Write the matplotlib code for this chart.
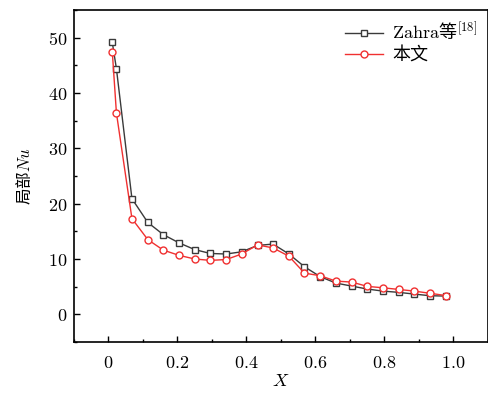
import matplotlib
matplotlib.use('Agg')
import matplotlib.pyplot as plt
from matplotlib.ticker import MultipleLocator

plt.rcParams['font.family'] = ['Noto Sans CJK SC', 'DejaVu Sans']
plt.rcParams['mathtext.fontset'] = 'cm'
plt.rcParams['axes.unicode_minus'] = False

# x positions along the wall
x = [0.011, 0.023, 0.068, 0.114, 0.159, 0.205, 0.250, 0.295, 0.341, 0.386, 0.432,
     0.477, 0.523, 0.568, 0.614, 0.659, 0.705, 0.750, 0.795, 0.841, 0.886, 0.932, 0.977]

# Zahra et al. [18]
nu_zahra = [49.15, 44.4, 20.9, 16.6, 14.4, 12.9, 11.7, 11.0, 10.9, 11.3, 12.45,
            12.7, 10.9, 8.6, 6.8, 5.65, 5.1, 4.57, 4.2, 3.97, 3.66, 3.36, 3.3]

# present work
nu_this = [47.5, 36.4, 17.3, 13.5, 11.6, 10.65, 10.0, 9.75, 9.9, 10.9, 12.55,
           12.0, 10.5, 7.45, 6.97, 6.0, 5.83, 5.05, 4.8, 4.5, 4.2, 3.8, 3.4]

labels = [r'$\mathrm{Zahra}$等$^{[18]}$', '本文']
xticks = [0, 0.2, 0.4, 0.6, 0.8, 1.0]
xticklabels = ['0', '0.2', '0.4', '0.6', '0.8', '1.0']
yticks = [0, 10, 20, 30, 40, 50]

fig = plt.figure(figsize=(4.88, 3.96), dpi=100)
ax = fig.add_axes([0.1516, 0.1364, 0.8484, 0.8383])

ax.plot(x, nu_zahra, color='#3a3a3a', lw=1.0, marker='s', ms=4.2,
        mfc='white', mec='#3a3a3a', mew=1.0, label=labels[0])
ax.plot(x, nu_this, color='#f03030', lw=1.0, marker='o', ms=5,
        mfc='white', mec='#f03030', mew=1.0, label=labels[1])

ax.set_xlim(-0.1, 1.1)
ax.set_ylim(-5, 55)
ax.xaxis.set_minor_locator(MultipleLocator(0.1))
ax.yaxis.set_minor_locator(MultipleLocator(5))
ax.set_xticks(xticks)
ax.set_xticklabels(['$\\mathrm{%s}$' % t for t in xticklabels])
ax.set_yticks(yticks)
ax.set_yticklabels(['$\\mathrm{%d}$' % t for t in yticks])

for s in ax.spines.values():
    s.set_linewidth(1.2)
ax.tick_params(which='both', direction='in', labelsize=13, width=1.0)
ax.tick_params(which='major', length=4)
ax.tick_params(which='minor', length=2)
ax.tick_params(axis='x', pad=9)
ax.tick_params(axis='y', pad=5)

ax.set_xlabel('$X$', fontsize=13, labelpad=0)
ax.set_ylabel('局部$Nu$', fontsize=12, labelpad=10)

ax.legend(loc='upper right', frameon=False, fontsize=13, handlelength=2.1,
          handletextpad=0.5, labelspacing=0.2, borderaxespad=0.2,
          bbox_to_anchor=(1.0, 1.0))

fig.savefig('out.png', dpi=100)
